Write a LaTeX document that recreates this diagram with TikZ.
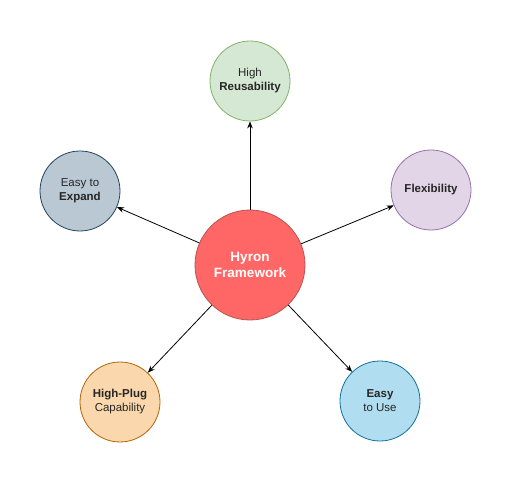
\documentclass[tikz,border=0pt]{standalone}
\usepackage{fontspec}
\setmainfont{Liberation Sans}
\usetikzlibrary{arrows.meta}
\definecolor{cfill}{HTML}{FF6666}\definecolor{cline}{HTML}{B85450}
\definecolor{gfill}{HTML}{D5E8D4}\definecolor{gline}{HTML}{82B366}
\definecolor{bfill}{HTML}{BAC8D3}\definecolor{bline}{HTML}{23445D}
\definecolor{pfill}{HTML}{E1D5E7}\definecolor{pline}{HTML}{9673A6}
\definecolor{ofill}{HTML}{FAD7AC}\definecolor{oline}{HTML}{B46504}
\definecolor{lfill}{HTML}{B1DDF0}\definecolor{lline}{HTML}{10739E}
\begin{document}
\begin{tikzpicture}[x=1pt,y=-1pt,
  sat/.style={circle,minimum size=80pt,inner sep=0pt,line width=0.8pt,align=center,
    font=\fontsize{11.5}{14}\selectfont,text=black!85},
  hub/.style={circle,minimum size=110pt,inner sep=0pt,line width=0.8pt,align=center,
    font=\fontsize{13.5}{16.5}\selectfont\bfseries,text=white,fill=cfill,draw=cline},
  conn/.style={line width=0.8pt,-{Stealth[length=7pt,width=5.5pt]}}]
\useasboundingbox (0,0) rectangle (512,481);
\node[hub] (c) at (250,265) {Hyron\\Framework};
\node[sat,fill=gfill,draw=gline] (t) at (250,81) {High\\\textbf{Reusability}};
\node[sat,fill=bfill,draw=bline] (l) at (80,191) {Easy to\\\textbf{Expand}};
\node[sat,fill=pfill,draw=pline] (r) at (431,190) {\textbf{Flexibility}};
\node[sat,fill=ofill,draw=oline] (bl) at (120,402) {\textbf{High-Plug}\\Capability};
\node[sat,fill=lfill,draw=lline] (br) at (380,401) {\textbf{Easy}\\to Use};
\foreach \n in {t,l,r,bl,br} \draw[conn] (c) -- (\n);
\end{tikzpicture}
\end{document}
